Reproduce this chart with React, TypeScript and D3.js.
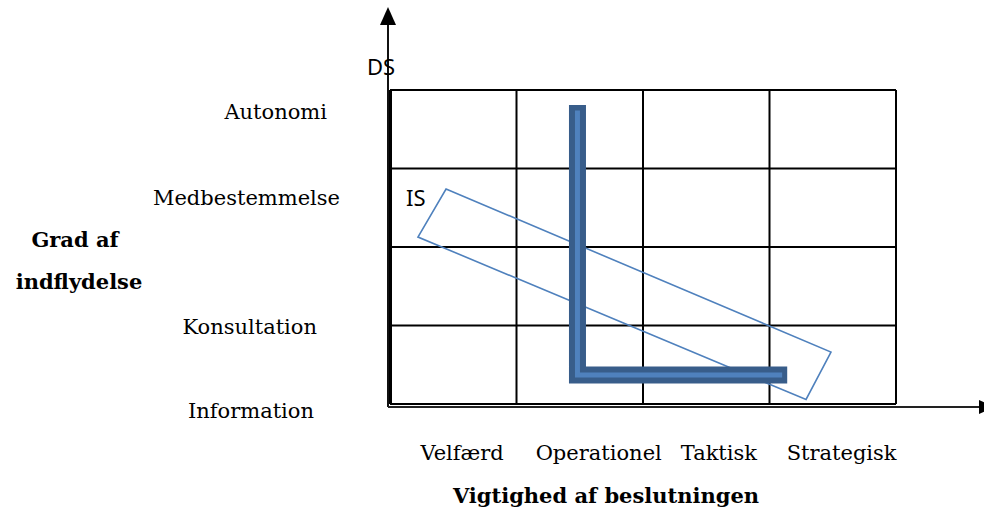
import React from 'react';
import * as d3 from 'd3';

// decision importance (columns) and degree of influence (rows)
const categories = ['Velfærd', 'Operationel', 'Taktisk', 'Strategisk'];
const categoryLabelPos = [0.57, 1.65, 2.6, 3.57]; // in column units
const levels = ['Information', 'Konsultation', 'Medbestemmelse', 'Autonomi'];
const levelLabelPos = [-0.08, 0.98, 2.63, 3.72]; // in row units
const levelLabelX = [314, 317, 340, 327];

// DS: L-shaped path in (column, row) units
const dsPath: [number, number][] = [
    [1.482, 3.81],
    [1.482, 0.37],
    [3.14, 0.37],
];
// IS: tilted band in (column, row) units
const isPolygon: [number, number][] = [
    [0.443, 2.739],
    [3.486, 0.662],
    [3.289, 0.058],
    [0.221, 2.127],
];

const W = 984;
const H = 510;
const SERIF = '"DejaVu Serif", serif';
const SANS = '"Noto Sans", "Open Sans", sans-serif';

const App: React.FC = () => {
    const x = d3.scaleLinear().domain([0, categories.length]).range([390, 896]);
    const y = d3.scaleLinear().domain([0, levels.length]).range([404, 90]);

    const line = d3.line<[number, number]>()
        .x(d => x(d[0]))
        .y(d => y(d[1]));

    const colTicks = d3.range(categories.length + 1);
    const rowTicks = d3.range(levels.length + 1);

    const axisX = x(0) - 2;
    const axisY = y(0) + 3;

    return (
        <div style={{ position: 'fixed', left: 0, top: 0, width: W, height: H, background: '#fff' }}>
            <svg width={W} height={H}>
                {/* grid */}
                <g stroke="#000" strokeWidth={2}>
                    {colTicks.map(i => (
                        <line key={'c' + i} x1={x(i)} x2={x(i)} y1={y(levels.length)} y2={y(0)}
                            strokeWidth={i === 0 ? 4 : 2} />
                    ))}
                    {rowTicks.map(i => (
                        <line key={'r' + i} x1={x(0)} x2={x(categories.length)} y1={y(i)} y2={y(i)} />
                    ))}
                </g>

                {/* axes with arrows */}
                <line x1={axisX} x2={axisX} y1={axisY} y2={22} stroke="#111" strokeWidth={2} />
                <path d={`M${axisX},7 L${axisX - 8},25 L${axisX + 8},25 Z`} fill="#000" />
                <line x1={axisX} x2={980} y1={axisY} y2={axisY} stroke="#222" strokeWidth={2} />
                <path d={`M995,${axisY} L979,${axisY - 7} L979,${axisY + 7} Z`} fill="#000" />

                {/* IS band */}
                <path d={line(isPolygon) + 'Z'} fill="none" stroke="#4F81BD" strokeWidth={1.6} />

                {/* DS L-shape */}
                <path d={line(dsPath) || ''} fill="none" stroke="#385D8A" strokeWidth={17}
                    strokeLinejoin="miter" strokeLinecap="butt" />
                <path d={line([[dsPath[0][0], dsPath[0][1] - 0.07], dsPath[1], [dsPath[2][0] - 0.04, dsPath[2][1]]]) || ''}
                    fill="none" stroke="#4F81BD" strokeWidth={5} strokeLinejoin="miter" />

                <text x={367} y={75} fontFamily={SANS} fontSize={22} fill="#000">DS</text>
                <text x={406} y={206} fontFamily={SANS} fontSize={22} fill="#000">IS</text>

                {/* level labels */}
                {levels.map((l, i) => (
                    <text key={l} x={levelLabelX[i]} y={y(levelLabelPos[i])} dy="0.35em"
                        textAnchor="end" fontFamily={SERIF} fontSize={21} fill="#000">{l}</text>
                ))}
                <text x={75} y={247} textAnchor="middle" fontFamily={SERIF} fontSize={21}
                    fontWeight="bold" fill="#000">Grad af</text>
                <text x={79} y={289} textAnchor="middle" fontFamily={SERIF} fontSize={21}
                    fontWeight="bold" fill="#000">indflydelse</text>

                {/* category labels */}
                {categories.map((c, i) => (
                    <text key={c} x={x(categoryLabelPos[i])} y={460} textAnchor="middle"
                        fontFamily={SERIF} fontSize={21} fill="#000">{c}</text>
                ))}
                <text x={606} y={503} textAnchor="middle" fontFamily={SERIF} fontSize={21}
                    fontWeight="bold" fill="#000">Vigtighed af beslutningen</text>
            </svg>
        </div>
    );
};

export default App;
